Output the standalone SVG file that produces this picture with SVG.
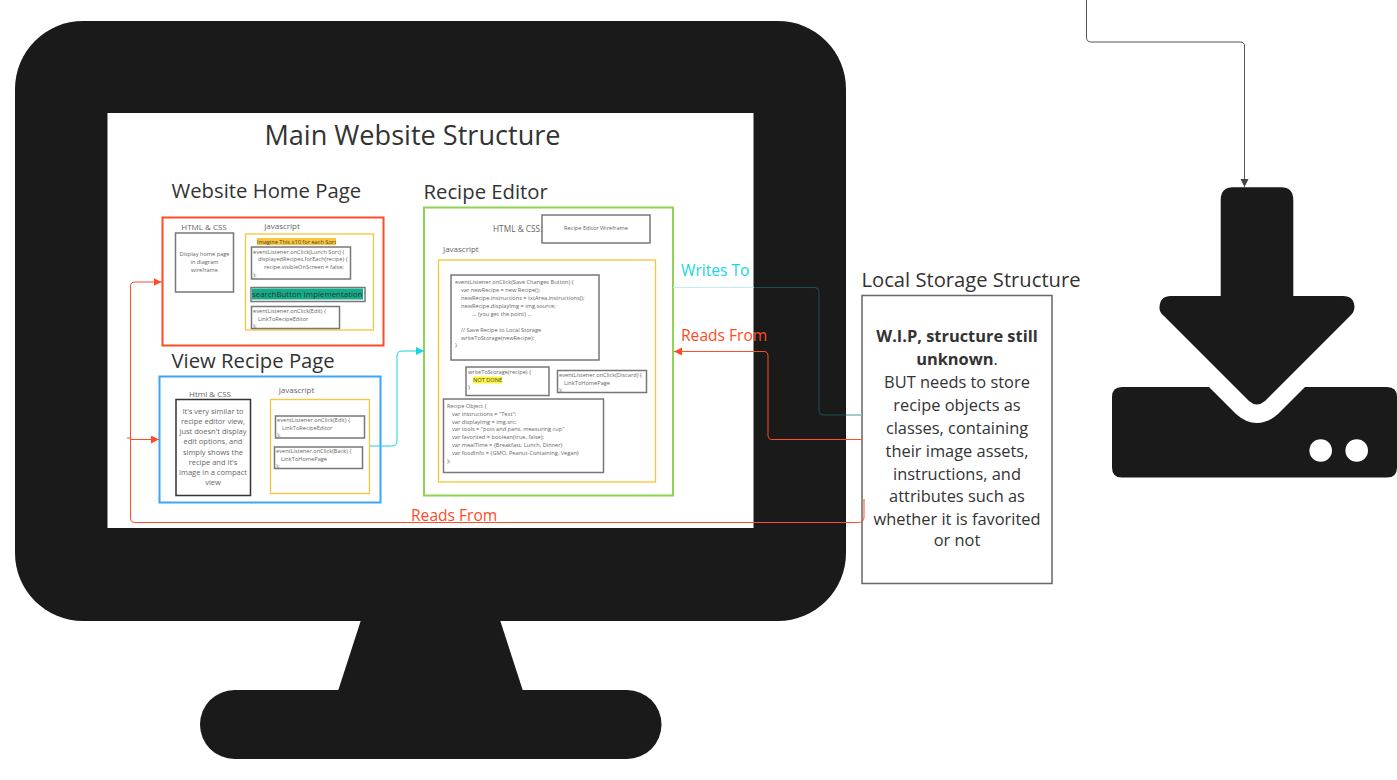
<svg xmlns="http://www.w3.org/2000/svg" width="1397" height="780" viewBox="0 0 1397 780">
<style>
text{font-family:"Open Sans","Noto Sans",sans-serif;fill:#333}
.t{font-size:20.300px}.h{font-size:8px;fill:#666}.s{font-size:5.650px;fill:#666}.c{text-anchor:middle}
.b{fill:#fff;stroke:#777;stroke-width:1.5}.d{fill:#fff;stroke:#333;stroke-width:1.5}
.y{fill:#fff;stroke:#fcc438;stroke-width:1.3}
.l{fill:none;stroke-width:1}
.o{stroke:#ff4b26}
</style>
<defs>
<marker id="ao" markerWidth="9" markerHeight="9" refX="8" refY="4" orient="auto" markerUnits="userSpaceOnUse"><path d="M0 0L8 4L0 8z" fill="#ff4b26"/></marker>
<marker id="ac" markerWidth="9" markerHeight="9" refX="8" refY="4" orient="auto" markerUnits="userSpaceOnUse"><path d="M0 0L8 4L0 8z" fill="#19d3e5"/></marker>
<marker id="ag" markerWidth="9" markerHeight="9" refX="8" refY="4" orient="auto" markerUnits="userSpaceOnUse"><path d="M0 0L8 4L0 8z" fill="#444"/></marker>
</defs>
<g id="monitor">
<path d="M361 620H500L523 691H338z" fill="#1a1a1a"/>
<rect x="200" y="690" width="461.500" height="69" rx="34.500" fill="#1a1a1a"/>
<rect x="15" y="21" width="831" height="600" rx="68" fill="#1a1a1a"/>
<rect x="107.500" y="113" width="646" height="415" fill="#fff"/>
</g>
<g id="download-icon" fill="#1a1a1a">
<path d="M1220.700 200Q1220.700 187.300 1233 187.300H1281Q1293.300 187.300 1293.300 200V296H1343Q1354 296 1354.500 307Q1354.500 312 1350 316L1265 401Q1257 408 1249 401L1164 316Q1159 312 1159.500 307Q1160 296 1171 296H1220.700z"/>
<path d="M1122 387H1209L1236 414Q1246 423 1257 423Q1268 423 1278 414L1305 387H1387Q1397 387 1397 397V467.500Q1397 477.500 1387 477.500H1122Q1112 477.500 1112 467.500V397Q1112 387 1122 387z"/>
<circle cx="1320.700" cy="450.500" r="11.300" fill="#fff"/><circle cx="1356.700" cy="450.500" r="11.300" fill="#fff"/>
</g>
<text x="412.500" y="145" class="c" font-size="27.100">Main Website Structure</text>
<g id="home-page">
<text x="171.500" y="198" class="t">Website Home Page</text>
<rect x="162.500" y="217.500" width="221" height="128" fill="#fff" stroke="#ff4b26" stroke-width="2"/>
<text x="204" y="230" class="h c">HTML &amp; CSS</text>
<rect x="175.500" y="233" width="58" height="59" class="b"/>
<text class="s c" x="204.500"><tspan x="204.500" y="256">Display home page</tspan><tspan x="204.500" y="264">in diagram</tspan><tspan x="204.500" y="272">wireframe</tspan></text>
<text x="282" y="229" class="h c">Javascript</text>
<rect x="245.500" y="234" width="128" height="96" class="y"/>
<rect x="257" y="238" width="79" height="7" fill="#fcc438"/>
<text x="296.500" y="243.500" class="s c" style="fill:#444">Imagine This x10 for each Sort</text>
<rect x="251.500" y="247" width="99" height="32" class="b"/>
<text class="s"><tspan x="253" y="254">eventListener.onClick(Lunch Sort) {</tspan><tspan x="258" y="261">displayedRecipes.forEach(recipe) {</tspan><tspan x="264" y="269">recipe.visibleOnScreen = false;</tspan><tspan x="253" y="277">};</tspan></text>
<rect x="251" y="287.500" width="114" height="14" class="b"/>
<rect x="252" y="288.500" width="111" height="11" fill="#14ab8a"/>
<text x="252" y="296.800" font-size="7.900" style="fill:#333">searchButton Implementation</text>
<rect x="251.500" y="306.500" width="88" height="22" class="b"/>
<text class="s"><tspan x="253" y="313">eventListener.onClick(Edit) {</tspan><tspan x="258" y="321">LinkToRecipeEditor</tspan><tspan x="253" y="328">};</tspan></text>
</g>
<g id="view-page">
<text x="171.500" y="368" class="t">View Recipe Page</text>
<rect x="159.500" y="376.500" width="221" height="126" fill="#fff" stroke="#3ea4f4" stroke-width="2"/>
<text x="210" y="397" class="h c">Html &amp; CSS</text>
<rect x="176" y="399.500" width="74.500" height="96" class="d"/>
<text class="s c" style="font-size:7.500px"><tspan x="213" y="414">It's very similar to</tspan><tspan x="213" y="424">recipe editor view,</tspan><tspan x="213" y="434">just doesn't display</tspan><tspan x="213" y="444">edit options, and</tspan><tspan x="213" y="455">simply shows the</tspan><tspan x="213" y="465">recipe and it's</tspan><tspan x="213" y="475">image in a compact</tspan><tspan x="213" y="485">view</tspan></text>
<text x="296.500" y="393" class="h c">Javascript</text>
<rect x="270.500" y="399.500" width="99" height="94" class="y"/>
<rect x="275.500" y="416" width="89" height="22" class="b"/>
<text class="s"><tspan x="277" y="422">eventListener.onClick(Edit) {</tspan><tspan x="282" y="430">LinkToRecipeEditor</tspan><tspan x="277" y="437">};</tspan></text>
<rect x="274.500" y="447" width="88" height="21.500" class="b"/>
<text class="s"><tspan x="276" y="453">eventListener.onClick(Back) {</tspan><tspan x="281" y="461">LinkToHomePage</tspan><tspan x="276" y="468">};</tspan></text>
</g>
<g id="recipe-editor">
<text x="423.500" y="199" class="t">Recipe Editor</text>
<rect x="424" y="207.500" width="249" height="288" fill="#fff" stroke="#8fd452" stroke-width="2"/>
<rect x="542" y="215" width="108" height="28" class="b"/>
<text x="493" y="232" class="h" style="font-size:8.300px">HTML &amp; CSS:</text>
<text x="596" y="230" class="s c">Recipe Editor Wireframe</text>
<text x="443" y="252" class="h">Javascript</text>
<rect x="438.500" y="260" width="217" height="222" class="y"/>
<rect x="451" y="275" width="148" height="85" class="b"/>
<text class="s"><tspan x="455" y="284">eventListener.onClick(Save Changes Button) {</tspan><tspan x="461" y="292">var newRecipe = new Recipe();</tspan><tspan x="461" y="300">newRecipe.instructions = txtArea.instructions();</tspan><tspan x="461" y="308">newRecipe.displayImg = img.source;</tspan><tspan x="472" y="316">... (you get the point) ...</tspan><tspan x="461" y="332">// Save Recipe to Local Storage</tspan><tspan x="461" y="340">writeToStorage(newRecipe);</tspan><tspan x="455" y="347">}</tspan></text>
<rect x="466" y="367" width="83" height="28.500" class="b"/>
<rect x="473" y="376.500" width="29" height="7" fill="#fff43a"/>
<text class="s"><tspan x="468" y="374">writeToStorage(recipe) {</tspan><tspan x="473" y="382" style="fill:#444">NOT DONE</tspan><tspan x="468" y="389">}</tspan></text>
<rect x="557.500" y="370.500" width="89" height="22" class="b"/>
<text class="s"><tspan x="559" y="377">eventListener.onClick(Discard) {</tspan><tspan x="564" y="385">LinkToHomePage</tspan><tspan x="559" y="392">};</tspan></text>
<rect x="443.500" y="399" width="160" height="73.500" class="b"/>
<text class="s"><tspan x="447" y="408">Recipe Object {</tspan><tspan x="452" y="416">var instructions = "Text";</tspan><tspan x="452" y="424">var displayImg = img.src;</tspan><tspan x="452" y="431">var tools = "pots and pans, measuring cup"</tspan><tspan x="452" y="439">var favorited = boolean(true, false);</tspan><tspan x="452" y="447">var mealTime = {Breakfast, Lunch, Dinner}</tspan><tspan x="452" y="455">var foodInfo = {GMO, Peanut-Containing, Vegan}</tspan><tspan x="447" y="463">};</tspan></text>
</g>
<g id="local-storage">
<text x="861.500" y="287" font-size="20.200">Local Storage Structure</text>
<rect x="862" y="295.500" width="190" height="288" fill="#fff" stroke="#666" stroke-width="1.500"/>
<text class="c" font-size="16.400"><tspan x="957" y="342" font-weight="700">W.I.P, structure still</tspan><tspan x="957" y="365" font-weight="700">unknown</tspan><tspan>.</tspan><tspan x="957" y="388">BUT needs to store</tspan><tspan x="957" y="411">recipe objects as</tspan><tspan x="957" y="434">classes, containing</tspan><tspan x="957" y="457">their image assets,</tspan><tspan x="957" y="480">instructions, and</tspan><tspan x="957" y="502">attributes such as</tspan><tspan x="957" y="524.500">whether it is favorited</tspan><tspan x="957" y="546">or not</tspan></text>
</g>
<g id="connectors">
<path class="l" stroke="#1a4f55" d="M754 287.500H815Q819 287.500 819 291.500V411Q819 415 823 415H862"/>
<path class="l" stroke="#bdeef3" d="M673 287.500H754M846 415H862"/>
<path class="l o" d="M864 499V517Q864 522.500 858 522.500H135Q130.500 522.500 130.500 518V286Q130.500 282 135 282H161.500" marker-end="url(#ao)"/>
<path class="l o" d="M127 438H130.500M131 439.500H159" marker-end="url(#ao)"/>
<path class="l o" d="M862 439.500H772Q768 439.500 768 435V356Q768 351.500 764 351.500H674" marker-end="url(#ao)"/>
<path class="l" stroke="#19d3e5" d="M370 446H392Q397 446 397 441V356Q397 351 402 351H424" marker-end="url(#ac)"/>
<path class="l" stroke="#555" stroke-width="1.200" d="M1086.500 0V37Q1086.500 42 1091 42H1240Q1244.500 42 1244.500 46V187" marker-end="url(#ag)"/>
</g>
<text x="681" y="276" font-size="15.600" style="fill:#19d3e5">Writes To</text>
<text x="681" y="341" font-size="15.600" style="fill:#ff4b26">Reads From</text>
<text x="411" y="521" font-size="15.600" style="fill:#ff4b26">Reads From</text>
</svg>
